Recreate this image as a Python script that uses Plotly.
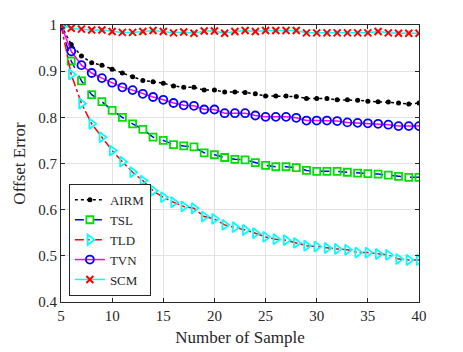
import plotly.graph_objects as go

samples = list(range(5, 41))

airm = [1.0, 0.958, 0.933, 0.918, 0.913, 0.904, 0.896, 0.888, 0.880, 0.877, 0.874, 0.868,
        0.865, 0.865, 0.859, 0.859, 0.855, 0.855, 0.854, 0.851, 0.846, 0.846, 0.846, 0.845,
        0.841, 0.841, 0.841, 0.838, 0.838, 0.837, 0.835, 0.834, 0.833, 0.831, 0.829, 0.831]

tsl = [1.0, 0.922, 0.879, 0.849, 0.834, 0.815, 0.800, 0.786, 0.774, 0.757, 0.750, 0.741,
       0.738, 0.736, 0.723, 0.719, 0.713, 0.709, 0.708, 0.702, 0.696, 0.693, 0.693, 0.691,
       0.685, 0.683, 0.683, 0.683, 0.681, 0.679, 0.678, 0.677, 0.675, 0.672, 0.670, 0.670]

tld = [1.0, 0.893, 0.830, 0.786, 0.757, 0.728, 0.704, 0.681, 0.663, 0.641, 0.627, 0.616,
       0.607, 0.603, 0.585, 0.580, 0.567, 0.562, 0.556, 0.549, 0.541, 0.536, 0.534, 0.528,
       0.522, 0.520, 0.517, 0.515, 0.513, 0.507, 0.507, 0.504, 0.502, 0.493, 0.491, 0.491]

tvn = [1.0, 0.943, 0.913, 0.896, 0.885, 0.875, 0.865, 0.859, 0.851, 0.844, 0.838, 0.831,
       0.826, 0.825, 0.817, 0.817, 0.809, 0.809, 0.809, 0.804, 0.801, 0.801, 0.801, 0.799,
       0.793, 0.793, 0.793, 0.792, 0.789, 0.788, 0.787, 0.786, 0.784, 0.781, 0.781, 0.781]

scm = [1.0, 0.993, 0.991, 0.989, 0.989, 0.986, 0.984, 0.984, 0.986, 0.988, 0.986, 0.983,
       0.985, 0.982, 0.987, 0.987, 0.982, 0.986, 0.988, 0.986, 0.988, 0.988, 0.988, 0.988,
       0.983, 0.983, 0.983, 0.983, 0.983, 0.983, 0.983, 0.986, 0.983, 0.982, 0.982, 0.982]

FONT = "Liberation Serif, Times New Roman, serif"

fig = go.Figure()

fig.add_trace(go.Scatter(x=samples, y=airm, name="AIRM", mode="lines+markers",
                         line=dict(color="black", width=1.5, dash="dot"),
                         marker=dict(symbol="circle", size=5, color="black")))

fig.add_trace(go.Scatter(x=samples, y=tsl, name="TSL", mode="lines+markers",
                         line=dict(color="#0000ff", width=1.5, dash="dash"),
                         marker=dict(symbol="square-open", size=7, color="#00e000",
                                     line=dict(width=1.8, color="#00e000"))))

fig.add_trace(go.Scatter(x=samples, y=tld, name="TLD", mode="lines+markers",
                         line=dict(color="#ff0000", width=1.5, dash="dashdot"),
                         marker=dict(symbol="triangle-right-open", size=9, color="#00ffff",
                                     line=dict(width=1.8, color="#00ffff"))))

fig.add_trace(go.Scatter(x=samples, y=tvn, name="TVN", mode="lines+markers",
                         line=dict(color="#ff00ff", width=1.5),
                         marker=dict(symbol="circle-open", size=8, color="#0000ff",
                                     line=dict(width=1.8, color="#0000ff"))))

fig.add_trace(go.Scatter(x=samples, y=scm, name="SCM", mode="lines+markers",
                         line=dict(color="#00ffff", width=1.5),
                         marker=dict(symbol="x-thin", size=7, color="#ff0000",
                                     line=dict(width=2, color="#ff0000"))))

axis_style = dict(showline=True, linecolor="#262626", linewidth=1, mirror="ticks",
                  ticks="inside", ticklen=4, tickcolor="#262626",
                  showgrid=True, gridcolor="#e3e3e3", gridwidth=1, zeroline=False,
                  automargin=False,
                  tickfont=dict(family=FONT, size=15, color="#262626"))

fig.update_xaxes(range=[5, 40], tick0=5, dtick=5,
                 title=dict(text="Number of Sample", font=dict(family=FONT, size=17, color="#262626"),
                            standoff=8),
                 **axis_style)
fig.update_yaxes(range=[0.4, 1.0], tick0=0.4, dtick=0.1, tickformat="~g",
                 title=dict(text="Offset Error", font=dict(family=FONT, size=17, color="#262626"),
                            standoff=8),
                 **axis_style)

# page body has an 8px margin, so the figure is shrunk by that much
fig.update_layout(
    width=455, height=344,
    margin=dict(l=53, r=44, t=17, b=50),
    paper_bgcolor="white", plot_bgcolor="white",
    font=dict(family=FONT, color="#262626"),
    showlegend=True,
    legend=dict(x=0.022, y=0.022, xanchor="left", yanchor="bottom",
                bgcolor="white", bordercolor="#262626", borderwidth=1,
                font=dict(family=FONT, size=13, color="#262626"),
                tracegroupgap=0, itemwidth=30),
)

fig.write_html("out.html")
